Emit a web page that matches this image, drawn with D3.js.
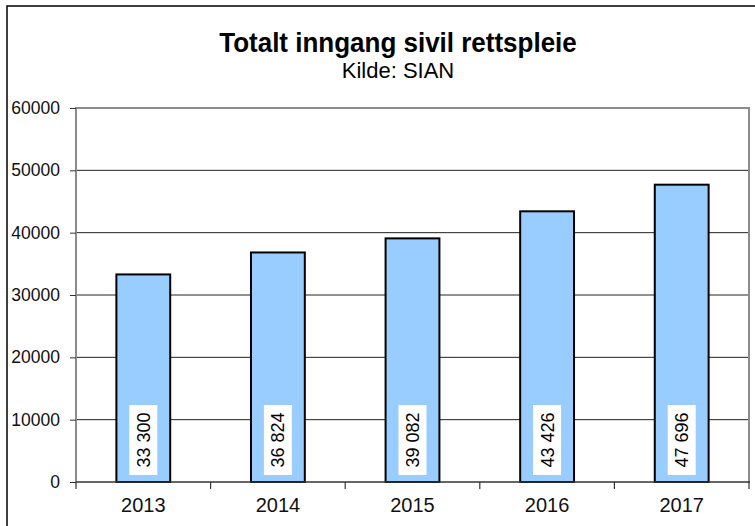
<!DOCTYPE html>
<html>
<head>
<meta charset="utf-8">
<script src="https://cdn.jsdelivr.net/npm/d3@7"></script>
<style>
  html, body { margin: 0; padding: 0; background: #fff; }
  svg { display: block; font-family: "Liberation Sans", Arial, sans-serif; }
</style>
</head>
<body>
<svg id="chart" width="755" height="526"></svg>
<script>
// Data
const years = ["2013", "2014", "2015", "2016", "2017"];
const totals = [33300, 36824, 39082, 43426, 47696];
const yTicks = [0, 10000, 20000, 30000, 40000, 50000, 60000];
const valueLabels = ["33 300", "36 824", "39 082", "43 426", "47 696"];

const svg = d3.select("#chart");
const W = 755, H = 526;
const plot = { left: 76, right: 749, top: 108, bottom: 482 };

// Outer chart frame (left and top edges visible)
svg.append("path")
  .attr("d", `M7,${H} L7,6 L${W},6`)
  .attr("fill", "none")
  .attr("stroke", "#000")
  .attr("stroke-width", 1.5);

// Titles
svg.append("text")
  .attr("transform", "translate(398,52) scale(1,1.07)")
  .attr("text-anchor", "middle")
  .attr("font-size", 26).attr("font-weight", "bold")
  .text("Totalt inngang sivil rettspleie");
svg.append("text")
  .attr("x", 398).attr("y", 77.5)
  .attr("text-anchor", "middle")
  .attr("font-size", 22)
  .text("Kilde: SIAN");

// Scales
const x = d3.scaleBand().domain(years).range([plot.left, plot.right]).padding(0);
const y = d3.scaleLinear().domain([0, 60000]).range([plot.bottom, plot.top]);

// Gridlines
svg.append("g")
  .selectAll("line")
  .data(yTicks.filter(t => t > 0 && t < 60000))
  .join("line")
  .attr("x1", plot.left).attr("x2", plot.right)
  .attr("y1", d => y(d)).attr("y2", d => y(d))
  .attr("stroke", "#222").attr("stroke-width", 1);

// Plot area border (left, top, right)
svg.append("path")
  .attr("d", `M${plot.left},${plot.bottom} L${plot.left},${plot.top} L${plot.right},${plot.top} L${plot.right},${plot.bottom}`)
  .attr("fill", "none")
  .attr("stroke", "#8c8c8c")
  .attr("stroke-width", 2);

// Y axis
const yAxis = d3.axisLeft(y).tickValues(yTicks).tickSize(6).tickPadding(10).tickFormat(d => String(d));
const gy = svg.append("g").attr("transform", `translate(${plot.left},0)`).call(yAxis);
gy.select(".domain").remove();
gy.selectAll(".tick line").attr("stroke", "#333");
gy.selectAll(".tick text")
  .attr("font-size", 17.5)
  .attr("font-family", "Liberation Sans, Arial, sans-serif")
  .attr("fill", "#111");

// Bars
const barW = x.bandwidth() * 0.4;
svg.append("g")
  .selectAll("rect")
  .data(years)
  .join("rect")
  .attr("x", (d) => x(d) + (x.bandwidth() - barW) / 2)
  .attr("y", (d, i) => y(totals[i]))
  .attr("width", barW)
  .attr("height", (d, i) => y(0) - y(totals[i]))
  .attr("fill", "#99ccff")
  .attr("stroke", "#000")
  .attr("stroke-width", 2);

// X axis (category boundaries as ticks)
svg.append("line")
  .attr("x1", plot.left).attr("x2", plot.right + 1)
  .attr("y1", plot.bottom).attr("y2", plot.bottom)
  .attr("stroke", "#333").attr("stroke-width", 1.5);
svg.append("g")
  .selectAll("line")
  .data(d3.range(years.length + 1))
  .join("line")
  .attr("x1", i => plot.left + i * x.step())
  .attr("x2", i => plot.left + i * x.step())
  .attr("y1", plot.bottom).attr("y2", plot.bottom + 7)
  .attr("stroke", "#333").attr("stroke-width", 1.2);
svg.append("g")
  .selectAll("text")
  .data(years)
  .join("text")
  .attr("x", d => x(d) + x.bandwidth() / 2)
  .attr("y", 512)
  .attr("text-anchor", "middle")
  .attr("font-size", 20)
  .attr("fill", "#111")
  .text(d => d);

// Value labels: white boxes with rotated text near the base of each bar
const lbl = svg.append("g")
  .selectAll("g")
  .data(years)
  .join("g")
  .attr("transform", d => `translate(${x(d) + x.bandwidth() / 2},${440})`);
lbl.append("rect")
  .attr("x", -14).attr("y", -35)
  .attr("width", 28).attr("height", 70)
  .attr("fill", "#fff");
lbl.append("text")
  .attr("transform", "rotate(-90)")
  .attr("text-anchor", "middle")
  .attr("dy", "0.36em")
  .attr("font-size", 18)
  .attr("fill", "#000")
  .text((d, i) => valueLabels[i]);
</script>
</body>
</html>
